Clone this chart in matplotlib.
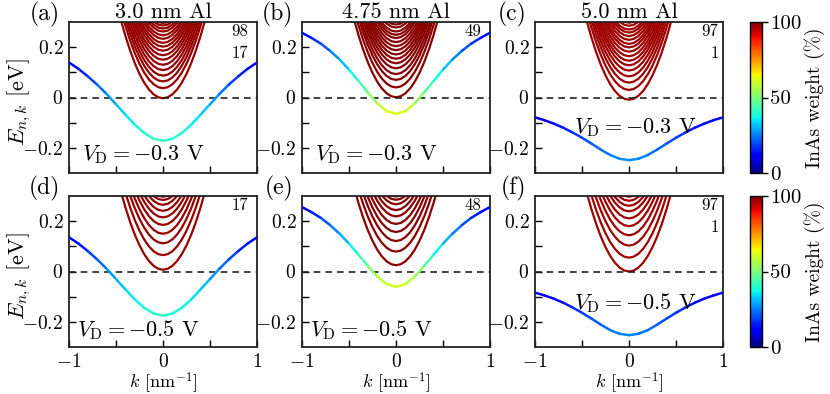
import numpy as np
import matplotlib
matplotlib.use('Agg')
import matplotlib.pyplot as plt
from matplotlib.collections import LineCollection
from matplotlib import colors, cm

plt.rcParams['font.family'] = 'serif'
plt.rcParams['font.serif'] = ['cmr10']
plt.rcParams['mathtext.fontset'] = 'cm'
plt.rcParams['axes.formatter.use_mathtext'] = True

# ---------------- data ----------------
k_vals = [-1.0, -0.9, -0.8, -0.7, -0.6, -0.5, -0.4, -0.3, -0.2, -0.1, 0.0,
          0.1, 0.2, 0.3, 0.4, 0.5, 0.6, 0.7, 0.8, 0.9, 1.0]

# hybridized band energy (eV) and InAs weight (%) per panel
E_a = [0.139, 0.114, 0.084, 0.051, 0.014, -0.027, -0.068, -0.108, -0.141, -0.164, -0.172,
       -0.164, -0.141, -0.108, -0.068, -0.027, 0.014, 0.051, 0.084, 0.114, 0.139]
W_a = [11, 13, 17, 21, 26, 30, 34, 37, 39, 41, 42, 41, 39, 37, 34, 30, 26, 21, 17, 13, 11]

E_b = [0.257, 0.237, 0.214, 0.185, 0.151, 0.111, 0.066, 0.020, -0.023, -0.054, -0.065,
       -0.054, -0.023, 0.020, 0.066, 0.111, 0.151, 0.185, 0.214, 0.237, 0.257]
W_b = [12, 15, 19, 23, 28, 34, 41, 49, 57, 61, 63, 61, 57, 49, 41, 34, 28, 23, 19, 15, 12]

E_c = [-0.079, -0.090, -0.104, -0.120, -0.139, -0.160, -0.183, -0.207, -0.2285, -0.2435, -0.249,
       -0.2435, -0.2285, -0.207, -0.183, -0.160, -0.139, -0.120, -0.104, -0.090, -0.079]
W_c = [10, 11, 13, 15, 17, 19, 21, 23, 25, 26, 27, 26, 25, 23, 21, 19, 17, 15, 13, 11, 10]

E_d = [0.136, 0.111, 0.081, 0.048, 0.011, -0.030, -0.071, -0.111, -0.144, -0.167, -0.175,
       -0.167, -0.144, -0.111, -0.071, -0.030, 0.011, 0.048, 0.081, 0.111, 0.136]
W_d = [11, 13, 17, 21, 25, 29, 33, 36, 38, 40, 41, 40, 38, 36, 33, 29, 25, 21, 17, 13, 11]

E_e = [0.256, 0.236, 0.213, 0.184, 0.150, 0.111, 0.067, 0.022, -0.020, -0.050, -0.061,
       -0.050, -0.020, 0.022, 0.067, 0.111, 0.150, 0.184, 0.213, 0.236, 0.256]
W_e = [12, 14, 18, 22, 27, 33, 40, 48, 56, 60, 62, 60, 56, 48, 40, 33, 27, 22, 18, 14, 12]

E_f = [-0.084, -0.095, -0.108, -0.124, -0.143, -0.164, -0.187, -0.211, -0.233, -0.2475, -0.253,
       -0.2475, -0.233, -0.211, -0.187, -0.164, -0.143, -0.124, -0.108, -0.095, -0.084]
W_f = [10, 11, 12, 14, 16, 18, 20, 22, 24, 25, 26, 25, 24, 22, 20, 18, 16, 14, 12, 11, 10]

# InAs-like subbands: shared dispersion profile (read from lowest subband) and band minima
k_sub = [-0.5, -0.45, -0.4, -0.35, -0.3, -0.25, -0.2, -0.15, -0.1, -0.05, 0.0,
         0.05, 0.1, 0.15, 0.2, 0.25, 0.3, 0.35, 0.4, 0.45, 0.5]
dE_sub = [0.3875, 0.3139, 0.248, 0.1899, 0.1395, 0.0969, 0.062, 0.0349, 0.0155, 0.0039, 0.0,
          0.0039, 0.0155, 0.0349, 0.062, 0.0969, 0.1395, 0.1899, 0.248, 0.3139, 0.3875]

cb_a = [-0.003, 0.037, 0.064, 0.087, 0.109, 0.130, 0.150, 0.168, 0.186, 0.202, 0.217,
        0.233, 0.247, 0.262, 0.274, 0.286, 0.296]
cb_b = [0.001, 0.040, 0.070, 0.093, 0.116, 0.136, 0.154, 0.171, 0.188, 0.204, 0.220,
        0.236, 0.249, 0.262, 0.278, 0.290]
cb_c = [-0.009, 0.030, 0.059, 0.084, 0.107, 0.128, 0.146, 0.164, 0.182, 0.199, 0.213,
        0.229, 0.244, 0.258, 0.270, 0.285, 0.297]
cb_d = [0.007, 0.065, 0.112, 0.150, 0.185, 0.215, 0.241, 0.265, 0.284, 0.297]
cb_e = [0.025, 0.079, 0.121, 0.157, 0.189, 0.219, 0.244, 0.267, 0.285, 0.298]
cb_f = [0.000, 0.055, 0.103, 0.144, 0.180, 0.211, 0.239, 0.261, 0.281, 0.297]

sub_weight = [98, 99, 97, 98, 99, 97]

titles = ['3.0 nm Al', '4.75 nm Al', '5.0 nm Al']
panel_labels = ['(a)', '(b)', '(c)', '(d)', '(e)', '(f)']
vd_labels = [r'$V_{\mathrm{D}} = -0.3$ V'] * 3 + [r'$V_{\mathrm{D}} = -0.5$ V'] * 3
corner_texts = [['98', '17'], ['49'], ['97', '1'], ['17'], ['48'], ['97', '1']]
xtick_vals = [-1, -0.5, 0, 0.5, 1]
xtick_labels = [r'$-1$', '', r'$0$', '', r'$1$']
ytick_vals = [-0.2, -0.1, 0, 0.1, 0.2]
ytick_labels = [r'$-0.2$', '', r'$0$', '', r'$0.2$']
cbar_ticks = [0, 50, 100]

E_all = [E_a, E_b, E_c, E_d, E_e, E_f]
W_all = [W_a, W_b, W_c, W_d, W_e, W_f]
CB_all = [cb_a, cb_b, cb_c, cb_d, cb_e, cb_f]

# ---------------- figure ----------------
W, H = 830, 394
fig = plt.figure(figsize=(W / 100, H / 100), dpi=100)
cmap = plt.get_cmap('jet')
norm = colors.Normalize(0, 100)

col_left = [69, 302, 535]
row_top = [22, 196]
ax_w, ax_h = 188, 151

vd_pos = [(0.07, 0.12), (0.07, 0.12), (0.21, 0.30), (0.045, 0.11), (0.045, 0.11), (0.21, 0.29)]
corner_x = [0.955, 0.955, 0.975, 0.955, 0.955, 0.975]

kv = np.array(k_vals)
ks = np.array(k_sub)
dEs = np.array(dE_sub)

for i in range(6):
    r, c = divmod(i, 3)
    x0 = col_left[c]
    y0 = row_top[r]
    ax = fig.add_axes([x0 / W, 1 - (y0 + ax_h) / H, ax_w / W, ax_h / H])
    ax.set_xlim(-1, 1)
    ax.set_ylim(-0.3, 0.3)

    # subbands
    for e0 in CB_all[i]:
        ax.plot(ks, e0 + dEs, color=cmap(norm(sub_weight[i])), lw=1.6, zorder=2)

    # zero line
    ax.axhline(0, color='#222222', lw=1.2, ls=(0, (4, 3)), zorder=3)

    # colored hybrid band
    E = np.array(E_all[i])
    Wt = np.array(W_all[i], dtype=float)
    pts = np.column_stack([kv, E]).reshape(-1, 1, 2)
    segs = np.concatenate([pts[:-1], pts[1:]], axis=1)
    segw = 0.5 * (Wt[:-1] + Wt[1:])
    lc = LineCollection(segs, colors=cmap(norm(segw)), linewidths=1.8,
                        capstyle='round', zorder=4)
    ax.add_collection(lc)

    ax.set_xticks(xtick_vals)
    ax.set_yticks(ytick_vals)
    ax.set_yticklabels(ytick_labels)
    if r == 1:
        ax.set_xticklabels(xtick_labels)
        ax.set_xlabel(r'$k$ [nm$^{\mathrm{-1}}$]', fontsize=13)
        ax.xaxis.set_label_coords(0.5, -0.155)
        ax.xaxis.label.set_va('top')
    else:
        ax.set_xticklabels([''] * 5)
        ax.set_title(titles[c], fontsize=16, pad=2)
    if c == 0:
        ax.set_ylabel(r'$E_{n,k}$ [eV]', fontsize=16)
        ax.yaxis.set_label_coords(-0.19, 0.47)
    ax.tick_params(direction='in', length=5, width=1, top=False, right=False,
                   labelsize=14, pad=4)
    for s in ax.spines.values():
        s.set_linewidth(1.3)
        s.set_color('#222222')

    ax.text(vd_pos[i][0], vd_pos[i][1], vd_labels[i], transform=ax.transAxes,
            fontsize=16, ha='left', va='center', zorder=5)
    for j, t in enumerate(corner_texts[i]):
        ax.text(corner_x[i], 0.935 - j * 0.14, t, transform=ax.transAxes, fontsize=12,
                ha='right', va='center')

    fig.text((x0 - 9) / W, 1 - (y0 - 8) / H, panel_labels[i], fontsize=17,
             ha='right', va='center')

# colorbars
for r in range(2):
    y0 = row_top[r]
    cax = fig.add_axes([750 / W, 1 - (y0 + ax_h) / H, 12 / W, ax_h / H])
    cb = fig.colorbar(cm.ScalarMappable(norm=norm, cmap=cmap), cax=cax, ticks=cbar_ticks)
    cb.ax.set_yticklabels([str(t) for t in cbar_ticks])
    cb.ax.tick_params(labelsize=15, length=4, width=1, pad=2)
    cb.outline.set_linewidth(1.0)
    cb.set_label('InAs weight (%)', fontsize=14, labelpad=2)

fig.savefig('out.png', dpi=100)
